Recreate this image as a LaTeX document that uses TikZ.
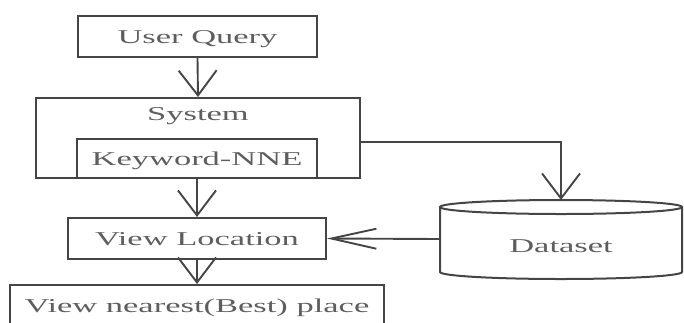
\documentclass[tikz,border=0pt]{standalone}
\usepackage{fontspec}
\usepackage{xcolor}
\usetikzlibrary{arrows.meta}
\newfontfamily\boxfont[FakeStretch=1.76]{Liberation Serif}
\definecolor{linegray}{HTML}{454545}
\definecolor{textgray}{HTML}{5E5E5E}
\tikzset{
  box/.style={draw=linegray, line width=2pt, inner sep=0pt, text=textgray,
    text height=13pt, text depth=0pt, font=\boxfont\fontsize{19.6}{22}\selectfont},
  txt/.style={inner sep=0pt, text=textgray, text height=13pt, text depth=0pt,
    font=\boxfont\fontsize{19.6}{22}\selectfont},
  down/.style={draw=linegray, line width=1.9pt, -{Straight Barb[length=25pt,width=38pt]}},
  left/.style={draw=linegray, line width=1.9pt, -{Straight Barb[length=45pt,width=20pt]}},
  cyl/.style={draw=linegray, line width=2pt}
}
\begin{document}
\begin{tikzpicture}[x=1pt,y=-1pt]
\useasboundingbox (0,0) rectangle (684,322);
\clip (0,0) rectangle (684,322);
\node[box, minimum width=239pt, minimum height=41pt] (query) at (197.5,36.5) {User Query};
\node[box, minimum width=324pt, minimum height=80pt] (system) at (198,138) {};
\node[txt] (systitle) at (198,114) {System};
\node[box, minimum width=240pt, minimum height=39pt] (keyword) at (197,158.5) {Keyword-NNE};
\node[box, minimum width=258pt, minimum height=41pt] (view) at (197,238.5) {View Location};
\node[box, minimum width=374pt, minimum height=41pt] (nearest) at (197,305.5) {View nearest(Best) place};
% dataset cylinder
\draw[cyl] (561,207) ellipse [x radius=121, y radius=7];
\draw[cyl] (440,207) -- (440,272) arc [start angle=180, end angle=0, x radius=121, y radius=7] -- (682,207);
\node[txt] (data) at (561,246) {Dataset};
\coordinate (datatop) at (561,200);
\coordinate (dataleft) at (440,239);
\draw[down] (query.south) -- (system.north);
\draw[down] (keyword.south) -- (view.north);
\draw[down] (view.south) -- (nearest.north);
\draw[down] ([yshift=-4pt]system.east) -| (datatop);
\draw[left] (dataleft) -- (view.east);
\end{tikzpicture}
\end{document}
